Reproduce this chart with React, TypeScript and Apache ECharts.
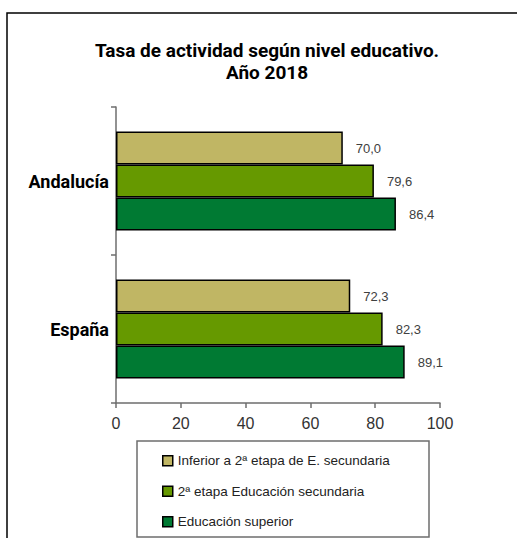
import React, { useEffect, useRef } from "react";
import * as echarts from "echarts";

const categories = ["Andalucía", "España"];
const seriesNames = [
  "Inferior a 2ª etapa de E. secundaria",
  "2ª etapa Educación secundaria",
  "Educación superior",
];
const inferiorValues = [70.0, 72.3];
const segundaValues = [79.6, 82.3];
const superiorValues = [86.4, 89.1];
const xTicks = [0, 20, 40, 60, 80, 100];
const colors = ["#C0B664", "#669900", "#007A33"];

const titleLines = ["Tasa de actividad según nivel educativo.", "Año 2018"];

export default function App() {
  const ref = useRef<HTMLDivElement>(null);
  useEffect(() => {
    if (!ref.current) return;
    const chart = echarts.init(ref.current, undefined, { renderer: "svg" });
    const allValues = [inferiorValues, segundaValues, superiorValues];
    const labelFont = "'Liberation Sans', Arial, sans-serif";
    const boldFont = "Roboto, 'Liberation Sans', sans-serif";
    chart.setOption({
      animation: false,
      backgroundColor: "#ffffff",
      grid: {
        left: 116,
        right: 77,
        top: 107,
        bottom: 135,
        containLabel: false,
        outerBoundsMode: "none",
      },
      xAxis: {
        type: "value",
        min: xTicks[0],
        max: xTicks[xTicks.length - 1],
        interval: 20,
        splitLine: { show: false },
        axisLine: { show: true, lineStyle: { color: "#6e6e6e", width: 1.5 } },
        axisTick: { show: true, length: 5, lineStyle: { color: "#6e6e6e", width: 1.5 } },
        axisLabel: {
          color: "#333333",
          fontSize: 16,
          fontFamily: labelFont,
          margin: 12,
        },
      },
      yAxis: {
        type: "category",
        data: categories,
        inverse: true,
        axisLine: { show: true, lineStyle: { color: "#6e6e6e", width: 1.5 } },
        axisTick: { show: true, length: 5, lineStyle: { color: "#6e6e6e", width: 1.5 } },
        axisLabel: {
          color: "#000000",
          fontSize: 18,
          fontWeight: "bold",
          fontFamily: boldFont,
          margin: 7,
        },
      },
      legend: {
        orient: "vertical",
        left: 162,
        top: 453,
        padding: 0,
        itemWidth: 10,
        itemHeight: 10,
        itemGap: 15,
        icon: "rect",
        selectedMode: false,
        itemStyle: { borderColor: "#000000", borderWidth: 1.5 },
        textStyle: {
          fontSize: 13.5,
          lineHeight: 15.5,
          color: "#222222",
          fontFamily: labelFont,
        },
        data: seriesNames,
      },
      series: seriesNames.map((name, i) => ({
        name,
        type: "bar",
        data: allValues[i],
        barWidth: 33,
        barGap: "0%",
        itemStyle: {
          color: colors[i],
          borderColor: "#000000",
          borderWidth: 1.5,
        },
        label: {
          show: true,
          position: "right",
          distance: 13,
          fontSize: 13,
          color: "#404040",
          fontFamily: labelFont,
          formatter: (p: any) => Number(p.value).toFixed(1).replace(".", ","),
        },
      })),
      graphic: [
        {
          type: "rect",
          shape: { x: 7, y: 13, width: 700, height: 700 },
          style: { fill: "none", stroke: "#000000", lineWidth: 1.5 },
          silent: true,
          z: 0,
        },
        {
          type: "rect",
          shape: { x: 137, y: 441, width: 292, height: 96 },
          style: { fill: "none", stroke: "#6e6e6e", lineWidth: 1.5 },
          silent: true,
        },
        {
          type: "text",
          x: 267,
          y: 50,
          style: {
            text: titleLines[0],
            fill: "#000000",
            font: `bold 19px ${boldFont}`,
            textAlign: "center",
            textVerticalAlign: "middle",
          },
        },
        {
          type: "text",
          x: 267,
          y: 72,
          style: {
            text: titleLines[1],
            fill: "#000000",
            font: `bold 19px ${boldFont}`,
            textAlign: "center",
            textVerticalAlign: "middle",
          },
        },
      ],
    });
    return () => chart.dispose();
  }, []);
  return (
    <div
      ref={ref}
      style={{ position: "absolute", left: 0, top: 0, width: 517, height: 538 }}
    />
  );
}
